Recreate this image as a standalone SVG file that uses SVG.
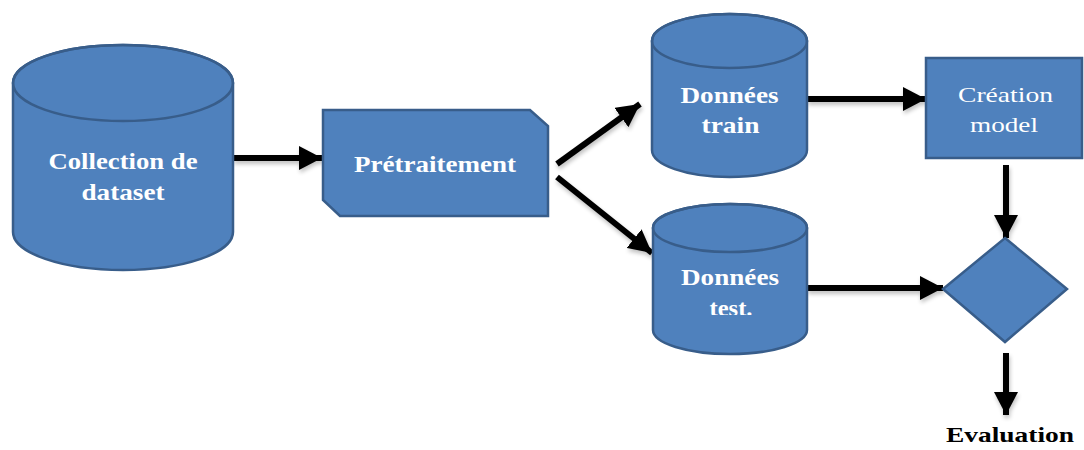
<svg xmlns="http://www.w3.org/2000/svg" width="1084" height="450" viewBox="0 0 1084 450">
  <style>
    .shape { fill: #4f81bd; stroke: #385d8a; stroke-width: 2.5; }
    .rim { fill: none; stroke: #385d8a; stroke-width: 2.5; }
    text { font-family: "Liberation Serif", "DejaVu Serif", serif; font-size: 24px; text-anchor: middle; }
    .label { font-weight: bold; fill: #ffffff; }
    .label-light { font-weight: normal; font-size: 22px; fill: #ffffff; }
    .caption { font-weight: bold; font-size: 22px; fill: #000000; }
    .link { stroke: #000000; stroke-width: 6; fill: none; marker-end: url(#head); }
  </style>
  <defs>
    <marker id="head" markerUnits="userSpaceOnUse" markerWidth="24" markerHeight="24" refX="23" refY="12" orient="auto">
      <path d="M0,0 L23,12 L0,24 Z" fill="#000000"/>
    </marker>
    <filter id="soft" x="-10%" y="-50%" width="120%" height="200%">
      <feGaussianBlur in="SourceAlpha" stdDeviation="2"/>
      <feOffset dx="1" dy="3" result="blur"/>
      <feComponentTransfer><feFuncA type="linear" slope="0.25"/></feComponentTransfer>
      <feMerge><feMergeNode/><feMergeNode in="SourceGraphic"/></feMerge>
    </filter>
    <clipPath id="cut-test">
      <rect x="650" y="255" width="160" height="60"/>
    </clipPath>
  </defs>

  <rect width="1084" height="450" fill="#ffffff"/>

  <!-- connectors -->
  <g id="connectors" filter="url(#soft)">
    <line class="link" x1="233" y1="158" x2="322" y2="158"/>
    <line class="link" x1="557" y1="164" x2="640" y2="104"/>
    <line class="link" x1="557" y1="177" x2="652" y2="253"/>
    <line class="link" x1="807" y1="99" x2="926" y2="99"/>
    <line class="link" x1="807" y1="288" x2="943" y2="288"/>
    <line class="link" x1="1006" y1="165" x2="1006" y2="238"/>
    <line class="link" x1="1006" y1="353" x2="1006" y2="415"/>
  </g>

  <!-- Collection de dataset -->
  <g id="collection">
    <path class="shape" d="M13,83 L13,232 A110,38 0 0 0 233,232 L233,83 A110,38 0 0 0 13,83 Z"/>
    <ellipse class="rim" cx="123" cy="83" rx="110" ry="38"/>
    <text class="label" x="123" y="169" textLength="149" lengthAdjust="spacingAndGlyphs">Collection de</text>
    <text class="label" x="123" y="200" textLength="83" lengthAdjust="spacingAndGlyphs">dataset</text>
  </g>

  <!-- Prétraitement -->
  <g id="pretraitement">
    <path class="shape" d="M323,110 L530,110 L548,126 L548,216 L340,216 L323,200 Z"/>
    <text class="label" x="435" y="172" textLength="162" lengthAdjust="spacingAndGlyphs">Prétraitement</text>
  </g>

  <!-- Données train -->
  <g id="donnees-train">
    <path class="shape" d="M652,41 L652,150 A77.5,27 0 0 0 807,150 L807,41 A77.5,27 0 0 0 652,41 Z"/>
    <ellipse class="rim" cx="729.5" cy="41" rx="77.5" ry="27"/>
    <text class="label" x="729.5" y="103" textLength="98" lengthAdjust="spacingAndGlyphs">Données</text>
    <text class="label" x="730.5" y="133" textLength="58" lengthAdjust="spacingAndGlyphs">train</text>
  </g>

  <!-- Données test -->
  <g id="donnees-test">
    <path class="shape" d="M653,228 L653,330 A77,24 0 0 0 807,330 L807,228 A77,24 0 0 0 653,228 Z"/>
    <ellipse class="rim" cx="730" cy="228" rx="77" ry="24"/>
    <text class="label" x="730" y="285" textLength="98" lengthAdjust="spacingAndGlyphs">Données</text>
    <text class="label" x="731" y="316" textLength="43" lengthAdjust="spacingAndGlyphs" clip-path="url(#cut-test)">test.</text>
  </g>

  <!-- Création model -->
  <g id="creation-model">
    <rect class="shape" x="926" y="58" width="156" height="100"/>
    <text class="label-light" x="1005.5" y="102" textLength="95" lengthAdjust="spacingAndGlyphs">Création</text>
    <text class="label-light" x="1004" y="132" textLength="68" lengthAdjust="spacingAndGlyphs">model</text>
  </g>

  <!-- evaluation diamond -->
  <g id="decision">
    <path class="shape" d="M1005,238 L1067,289 L1005,342 L943,289 Z"/>
  </g>

  <g id="evaluation">
    <text class="caption" x="1010" y="442" textLength="128" lengthAdjust="spacingAndGlyphs">Evaluation</text>
  </g>
</svg>
